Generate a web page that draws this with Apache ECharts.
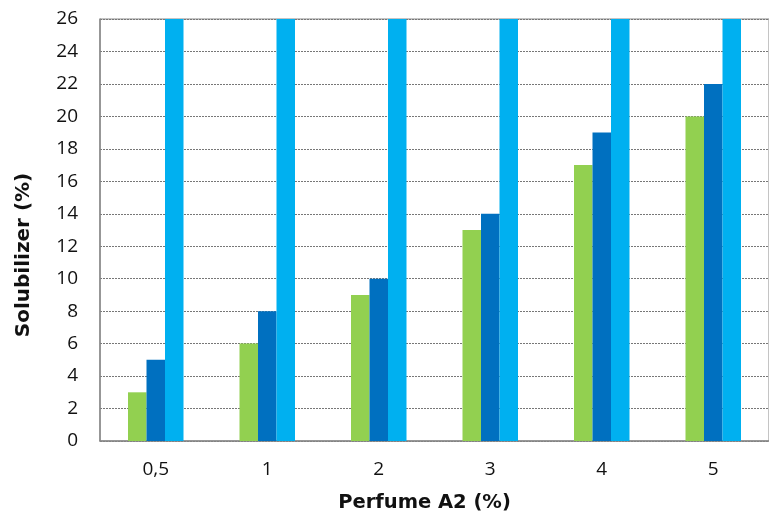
<!DOCTYPE html>
<html><head><meta charset="utf-8">
<script src="https://cdn.jsdelivr.net/npm/echarts@6/dist/echarts.min.js"></script>
<style>html,body{margin:0;padding:0;background:#fff}#c{width:769px;height:519px}</style>
</head><body><div id="c"></div>
<script>
const categories = ['0,5', '1', '2', '3', '4', '5'];
const seriesGreen = [3, 6, 9, 13, 17, 20];
const seriesDarkBlue = [5, 8, 10, 14, 19, 22];
const seriesLightBlue = [26, 26, 26, 26, 26, 26];
const yTicks = {min: 0, max: 26, interval: 2};

const chart = echarts.init(document.getElementById('c'));
const tickFont = {fontFamily: 'Open Sans', fontSize: 19, color: '#111'};
const mk = (data, color) => ({type: 'bar', data, barWidth: 18.5, barGap: '0%', itemStyle: {color}, animation: false});
chart.setOption({
  animation: false,
  grid: {left: 100, right: -1, top: 19, bottom: 78, show: true, borderColor: '#888', borderWidth: 1, backgroundColor: 'transparent'},
  xAxis: {
    type: 'category', data: categories,
    axisLine: {lineStyle: {color: '#888', width: 1.5}},
    axisTick: {show: false},
    axisLabel: Object.assign({margin: 19}, tickFont),
    name: 'Perfume A2 (%)', nameLocation: 'middle', nameGap: 52,
    nameTextStyle: {fontFamily: 'DejaVu Sans', fontWeight: 'bold', fontSize: 19.5, color: '#111', padding: [0, 20, 0, 0]}
  },
  yAxis: {
    type: 'value', min: yTicks.min, max: yTicks.max, interval: yTicks.interval,
    axisLine: {show: true, lineStyle: {color: '#888', width: 1.5}},
    axisTick: {show: false},
    axisLabel: Object.assign({margin: 22}, tickFont),
    splitLine: {show: true, lineStyle: {color: '#777', type: [2, 1], width: 1}},
    name: 'Solubilizer (%)', nameLocation: 'middle', nameGap: 66, nameRotate: 90,
    nameTextStyle: {fontFamily: 'DejaVu Sans', fontWeight: 'bold', fontSize: 20, color: '#111', padding: [0, 50, 0, 0]}
  },
  series: [mk(seriesGreen, '#92D050'), mk(seriesDarkBlue, '#0070C0'), mk(seriesLightBlue, '#00B0F0')]
});
</script></body></html>
